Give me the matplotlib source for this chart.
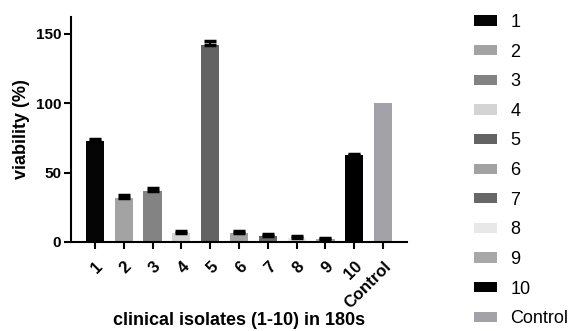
import matplotlib
matplotlib.use("Agg")
import matplotlib.pyplot as plt
from matplotlib.patches import Patch

plt.rcParams['font.family'] = ['Liberation Sans', 'DejaVu Sans']

# data
labels = ["1", "2", "3", "4", "5", "6", "7", "8", "9", "10", "Control"]
viability = [72.5, 32.0, 36.8, 6.3, 142.0, 6.8, 4.5, 3.0, 2.0, 62.4, 100.0]
sem = [1.5, 2.0, 2.2, 1.5, 2.5, 1.0, 1.3, 1.5, 1.2, 1.0, 0.0]
colors = ["#050505", "#a3a3a3", "#838383", "#d4d4d4", "#636363", "#a2a2a2",
          "#676767", "#e8e8e8", "#a8a8a8", "#000000", "#a2a2a8"]

fig = plt.figure(figsize=(5.71, 3.31), dpi=100)
ax = fig.add_axes([0.1243, 0.2689, 0.5885, 0.6797])

x = list(range(len(labels)))
ax.bar(x, viability, width=0.63, color=colors, zorder=2)

# only upper error bars, GraphPad style
has_err = [i for i in x if sem[i] > 0]
ax.errorbar([x[i] for i in has_err], [viability[i] for i in has_err],
            yerr=[[0] * len(has_err), [sem[i] for i in has_err]],
            fmt="none", ecolor="black", elinewidth=1.5, capsize=4.2,
            capthick=2.5, zorder=3)

ax.set_xlim(-0.83, 10.83)
ax.set_ylim(0, 162)
ax.set_yticks([0, 50, 100, 150])
ax.set_xticks(x)
ax.set_xticklabels(labels, rotation=45, ha="right", rotation_mode="anchor",
                   fontsize=12, fontweight="bold")
for t in ax.get_yticklabels():
    t.set_fontsize(11)
    t.set_fontweight("bold")

for side in ["top", "right"]:
    ax.spines[side].set_visible(False)
for side in ["left", "bottom"]:
    ax.spines[side].set_linewidth(1.5)
ax.tick_params(axis="both", width=1.5, length=5, pad=2)
ax.tick_params(axis="x", pad=7)

ax.set_ylabel("viability (%)", fontsize=13, fontweight="bold", labelpad=4)
ax.set_xlabel("clinical isolates (1-10) in 180s", fontsize=13,
              fontweight="bold", va="top")
ax.xaxis.set_label_coords(0.5, -0.312)

handles = [Patch(facecolor=c, edgecolor="none") for c in colors]
fig.legend(handles, labels, loc="upper left", bbox_to_anchor=(0.8295, 0.958),
           frameon=False, fontsize=13, handlelength=1.28, handleheight=0.5,
           handletextpad=0.75, labelspacing=0.70, borderpad=0,
           borderaxespad=0)

fig.savefig("out.png", dpi=100)
